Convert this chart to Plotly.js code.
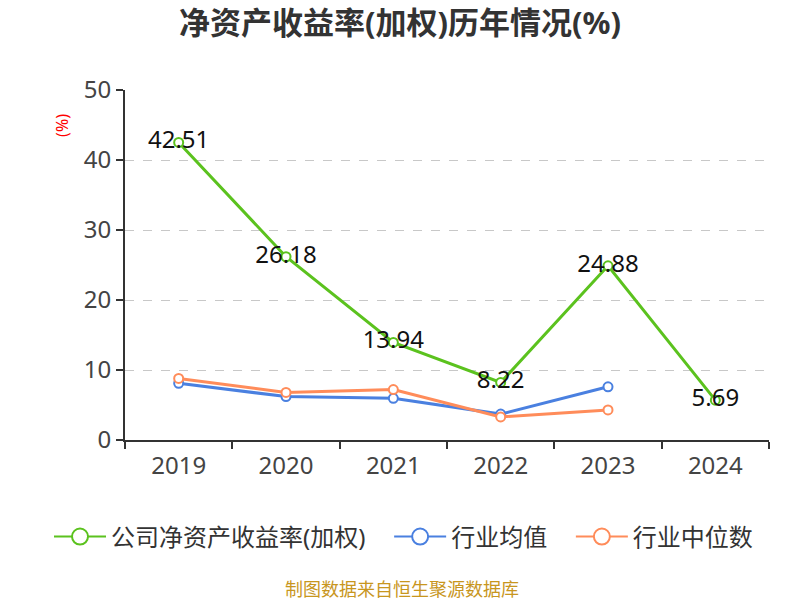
<!DOCTYPE html>
<html><head><meta charset="utf-8">
<script src="https://cdn.plot.ly/plotly-3.0.1.min.js"></script>
<style>html,body{margin:0;padding:0;background:#fff}#chart{width:800px;height:600px}</style>
</head><body><div id="chart"></div>
<script>
const years = ["2019","2020","2021","2022","2023","2024"];
const companyROE = [42.51, 26.18, 13.94, 8.22, 24.88, 5.69];
const industryAvg = [8.1, 6.2, 5.95, 3.7, 7.6, null];
const industryMedian = [8.8, 6.8, 7.2, 3.3, 4.3, null];
const seriesNames = ["公司净资产收益率(加权)", "行业均值", "行业中位数"];
const colors = ["#5bc21e", "#4a80e0", "#ff8c5a"];

const FONT = "Noto Sans, Noto Sans CJK SC, sans-serif";
function mk(y, i, withText, rank) {
  const t = {
    x: years, y: y, name: seriesNames[i], type: "scatter",
    mode: withText ? "lines+markers+text" : "lines+markers",
    line: {color: colors[i], width: 3},
    marker: {symbol: "circle", size: 9, color: "#ffffff", line: {color: colors[i], width: 2}},
    cliponaxis: false, legendrank: rank, showlegend: false
  };
  if (withText) {
    t.text = y.map(v => v.toFixed(2));
    t.textposition = "middle center";
    t.textfont = {family: FONT, size: 24, color: "#111"};
  }
  return t;
}
const PAD = "\u00a0\u00a0\u00a0";
function legendItem(i, rank) {
  return {x: [years[0]], y: [null], name: seriesNames[i] + (i < 2 ? PAD : ""), type: "scatter", mode: "lines+markers",
          line: {color: colors[i], width: 2},
          marker: {symbol: "circle", size: 20, color: "#ffffff", line: {color: colors[i], width: 2}},
          legendrank: rank, showlegend: true, hoverinfo: "skip"};
}
const data = [
  mk(industryAvg, 1, false, 2), mk(industryMedian, 2, false, 3), mk(companyROE, 0, true, 1),
  legendItem(0, 1), legendItem(1, 2), legendItem(2, 3)
];
const layout = {
  width: 800, height: 600,
  margin: {l: 125, r: 31, t: 90, b: 160},
  paper_bgcolor: "#fff", plot_bgcolor: "#fff",
  font: {family: FONT, color: "#333"},
  title: {text: "<b>净资产收益率(加权)历年情况(%)</b>", x: 0.5, xanchor: "center", y: 0.962, yanchor: "middle",
          font: {family: FONT, size: 31, color: "#333"}},
  showlegend: true,
  legend: {orientation: "h", x: -0.118, xanchor: "left", y: -0.277, yanchor: "middle",
           font: {family: FONT, size: 24, color: "#333"}, traceorder: "normal", itemwidth: 52},
  xaxis: {type: "category", range: [-0.5, 5.5], showgrid: false, zeroline: false,
          showline: true, linecolor: "#333", linewidth: 2,
          ticks: "outside", tickson: "boundaries", ticklen: 7, tickcolor: "#333", tickwidth: 2,
          ticklabelstandoff: 3,
          tickfont: {family: FONT, size: 24, color: "#444"}, fixedrange: true},
  yaxis: {range: [0, 50], dtick: 10, showgrid: true, gridcolor: "#c8c8c8", griddash: "dash", gridwidth: 1,
          zeroline: false, showline: true, linecolor: "#333", linewidth: 2,
          ticks: "outside", ticklen: 7, tickcolor: "#333", tickwidth: 2,
          tickfont: {family: FONT, size: 24, color: "#444"}, fixedrange: true},
  annotations: [
    {text: "(%)", xref: "paper", yref: "paper", x: -0.098, y: 0.9, textangle: -90, showarrow: false,
     font: {family: FONT, size: 16, color: "#ff0000"}, xanchor: "center", yanchor: "middle"},
    {text: "制图数据来自恒生聚源数据库", xref: "paper", yref: "paper", x: 0.43, y: -0.427, showarrow: false,
     font: {family: FONT, size: 18, color: "#c8961e"}, xanchor: "center", yanchor: "middle"}
  ]
};
Plotly.newPlot("chart", data, layout, {displayModeBar: false, staticPlot: true});
</script></body></html>
